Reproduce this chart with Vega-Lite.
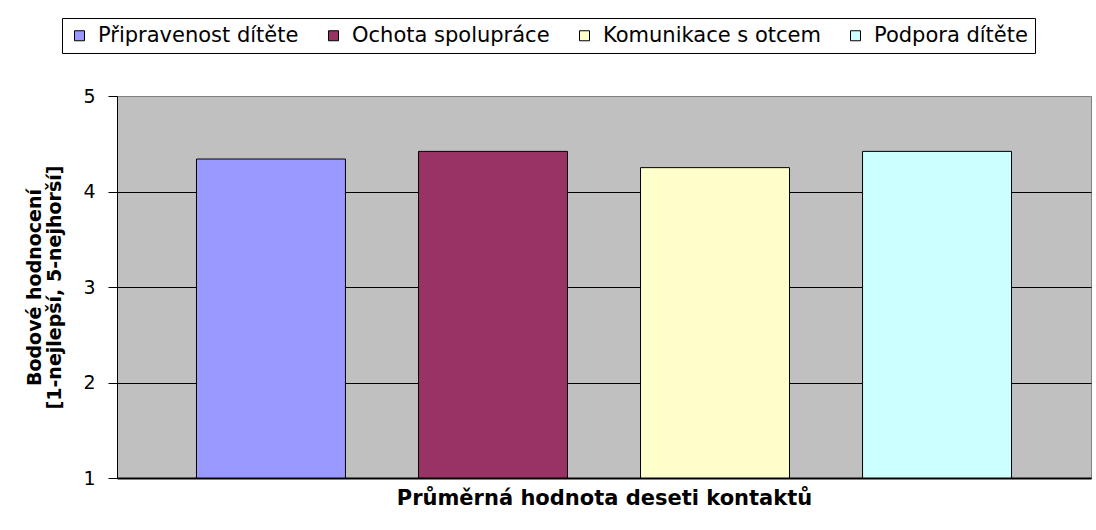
{
  "$schema": "https://vega.github.io/schema/vega-lite/v6.json",
  "autosize": "none",
  "width": 974,
  "height": 382,
  "padding": {"left": 117, "top": 96, "right": 5, "bottom": 52},
  "background": "white",
  "data": {
    "values": [
      {"series": "Připravenost dítěte", "value": 4.34},
      {"series": "Ochota spolupráce", "value": 4.42},
      {"series": "Komunikace s otcem", "value": 4.25},
      {"series": "Podpora dítěte", "value": 4.42}
    ]
  },
  "mark": {"type": "bar", "stroke": "black", "strokeWidth": 1},
  "encoding": {
    "x": {
      "field": "series",
      "type": "nominal",
      "sort": null,
      "scale": {"paddingInner": 0.329, "paddingOuter": 0.358},
      "axis": {
        "labels": false,
        "ticks": false,
        "grid": false,
        "title": "Průměrná hodnota deseti kontaktů",
        "titleFont": "DejaVu Sans",
        "titleFontSize": 21,
        "titleFontWeight": "bold",
        "titleColor": "black",
        "titlePadding": 9,
        "domainColor": "black",
        "domainWidth": 2
      }
    },
    "y": {
      "field": "value",
      "type": "quantitative",
      "scale": {"domain": [1, 5], "nice": false, "zero": false},
      "axis": {
        "values": [1, 2, 3, 4, 5],
        "title": ["Bodové hodnocení", "[1-nejlepší, 5-nejhorší]"],
        "titleFont": "DejaVu Sans",
        "titleFontSize": 19,
        "titleFontWeight": "bold",
        "titleColor": "black",
        "titleLineHeight": 20,
        "titlePadding": 18,
        "labelFont": "DejaVu Sans",
        "labelFontSize": 19,
        "labelColor": "black",
        "labelPadding": 13,
        "labelFlush": false,
        "labelOverlap": false,
        "tickSize": 9,
        "tickColor": "black",
        "domainColor": "black",
        "grid": true,
        "gridOpacity": 1,
        "gridColor": {"condition": {"test": "datum.value == 5", "value": "#808080"}, "value": "black"}
      }
    },
    "y2": {"datum": 1},
    "color": {
      "field": "series",
      "type": "nominal",
      "sort": null,
      "scale": {
        "domain": ["Připravenost dítěte", "Ochota spolupráce", "Komunikace s otcem", "Podpora dítěte"],
        "range": ["#9999FF", "#993366", "#FFFFCC", "#CCFFFF"]
      },
      "legend": {
        "title": null,
        "orient": "none",
        "legendX": -55,
        "legendY": -78,
        "direction": "horizontal",
        "symbolType": "square",
        "symbolSize": 100,
        "symbolStrokeColor": "black",
        "symbolStrokeWidth": 1,
        "labelFont": "DejaVu Sans",
        "labelFontSize": 21,
        "labelColor": "black",
        "labelOffset": 8,
        "labelLimit": 400,
        "columnPadding": 24,
        "padding": 7,
        "strokeColor": "black",
        "fillColor": "white"
      }
    }
  },
  "config": {
    "view": {"fill": "#C0C0C0", "stroke": "#808080"}
  }
}
